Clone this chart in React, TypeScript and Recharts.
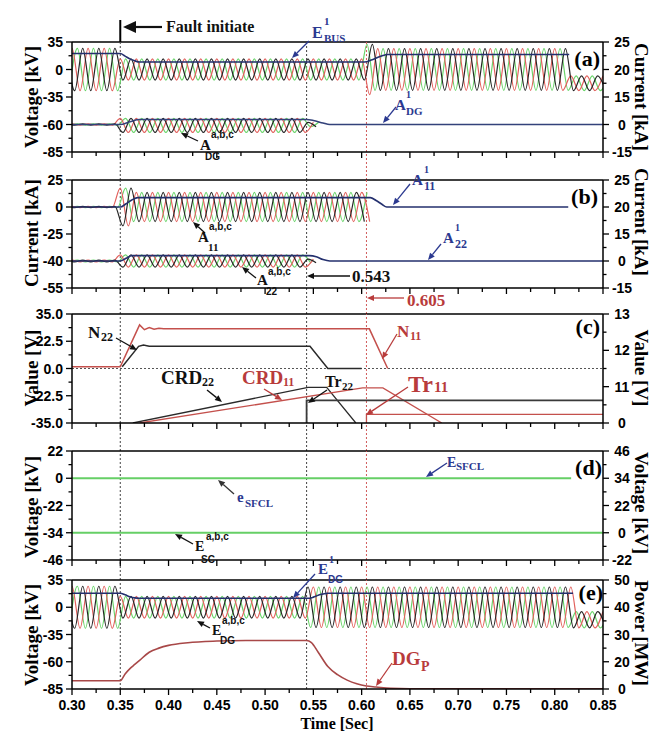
import React from "react";
import { Line, LineChart, ReferenceLine, XAxis, YAxis } from "recharts";

const FREQ = 60; // Hz, three peaks per phase in the 0.30-0.35 s window
const T_MIN = 0.3;
const T_MAX = 0.85;
const SERIF = '"Liberation Serif", "Times New Roman", serif';
const SANS = '"Liberation Sans", Arial, sans-serif';
const NAVY = "#2b3990";
const RED = "#b83b3b";
const INK = "#111";

const xTicks = [
  0.3, 0.325, 0.35, 0.375, 0.4, 0.425, 0.45, 0.475, 0.5, 0.525, 0.55, 0.575,
  0.6, 0.625, 0.65, 0.675, 0.7, 0.725, 0.75, 0.775, 0.8, 0.825, 0.85,
];
const xTickLabels = ["0.30", "0.35", "0.40", "0.45", "0.50", "0.55", "0.60", "0.65", "0.70", "0.75", "0.80", "0.85"];

const eventTimes = [0.35, 0.543, 0.605];
const eventColors = ["#444", "#444", "#d05a5a"];

// phases a, b, c: shift as part of one period
const phaseShift = [1 / 3, 0, 2 / 3];
const phaseColors = ["#6ad46a", "#e2605c", "#262626"];

// axis labels, equally spaced on the original figure
const aLeftTicks = [-85, -60, -35, 0, 35];
const aRightTicks = [-15, 0, 15, 20, 25];
const bLeftTicks = [-55, -40, -25, 0, 25];
const bRightTicks = [-15, 0, 15, 20, 25];
const cLeftTicks = [-35, -22.5, 0, 22.5, 35];
const cRightTicks = [0, 11, 12, 13];
const dLeftTicks = [-46, -34, -22, 0, 22];
const dRightTicks = [-22, 0, 22, 34, 46];
const eLeftTicks = [-85, -60, -35, 0, 35];
const eRightTicks = [0, 20, 30, 40, 50];

// (a) E_BUS a,b,c peak envelope [kV]
const busStart = [0.3, 0.35, 0.605, 0.613, 0.815];
const busEnd = [0.35, 0.605, 0.613, 0.815, 0.85];
const busAmp = [27, 13.5, 32, 26.5, 9.5];
const busMid = [0, 0, 0, 0, -17.5];
// (a) E_BUS^1 [kV]
const busRmsT = [0.3, 0.35, 0.355, 0.36, 0.365, 0.37, 0.603, 0.61, 0.617, 0.622, 0.627, 0.815];
const busRmsV = [20.3, 20.3, 17, 13.5, 11, 9.5, 9.5, 12, 15.5, 17.8, 19, 19];
// (a) A_DG a,b,c [kA]
const dgCurStart = [0.3, 0.35, 0.543];
const dgCurEnd = [0.35, 0.543, 0.556];
const dgCurAmp = [0.4, 3.8, 1.2];
const dgCurMid = [0, -0.5, 0];
// (a) A_DG^1 [kA]
const dgRmsT = [0.3, 0.35, 0.36, 0.37, 0.543, 0.55, 0.56, 0.567, 0.85];
const dgRmsV = [0, 0, 1.5, 2.7, 2.7, 2.2, 0.8, 0, 0];

// (b) A_11 a,b,c [kA]
const a11Start = [0.3, 0.35, 0.362];
const a11End = [0.35, 0.362, 0.611];
const a11Amp = [0.6, 17.5, 13.5];
const a11Mid = [0, 0, 0];
const a11RmsT = [0.3, 0.35, 0.356, 0.362, 0.368, 0.609, 0.615, 0.621, 0.626, 0.814];
const a11RmsV = [0, 0, 3, 6.5, 8.7, 8.7, 6, 2.5, 0, 0];
// (b) A_22 a,b,c [kA]
const a22Start = [0.3, 0.35, 0.543];
const a22End = [0.35, 0.543, 0.553];
const a22Amp = [0.5, 3.4, 1];
const a22Mid = [-40, -40, -40];
const a22RmsT = [0.3, 0.35, 0.356, 0.362, 0.546, 0.553, 0.56, 0.567, 0.85];
const a22RmsV = [-40, -40, -38.5, -37, -37, -37.6, -39.2, -40, -40];

// (c) relay values
const n11T = [0.3, 0.35, 0.37, 0.375, 0.38, 0.385, 0.39, 0.395, 0.608, 0.627];
const n11V = [1.4, 1.4, 30, 27.8, 28.8, 28, 28.5, 28.2, 28.2, 0];
const n22T = [0.352, 0.369, 0.374, 0.38, 0.5465, 0.565, 0.6];
const n22V = [1.4, 18.3, 19.3, 18.3, 18.3, 0, 0];
const crd22T = [0.363, 0.5445, 0.5638, 0.594];
const crd22V = [-35, -15.6, -15.6, -35];
const crd11T = [0.37, 0.601, 0.622, 0.683];
const crd11V = [-35, -16, -16, -35];
const tr22T = [0.543, 0.543, 0.85];
const tr22V = [-35, -24.6, -24.6];
const tr11T = [0.605, 0.605, 0.85];
const tr11V = [-35, -31, -31];

// (d) SFCL voltages [kV]
const sfclT = [0.3, 0.817];
const sfclV = [0, 0];
const escT = [0.3, 0.85];
const escV = [-34, -34];

// (e) E_DG a,b,c [kV]
const edgStart = [0.3, 0.35, 0.543, 0.819];
const edgEnd = [0.35, 0.543, 0.819, 0.85];
const edgAmp = [27, 14, 26, 10.5];
const edgMid = [0, 0, 0, -16];
const edgRmsT = [0.3, 0.35, 0.355, 0.36, 0.365, 0.37, 0.545, 0.55, 0.555, 0.56, 0.565, 0.819];
const edgRmsV = [18, 18, 16, 13.5, 12, 11.5, 11.5, 13, 15.5, 17, 18, 18];
// (e) DG_P [MW]
const dgpT = [0.3, 0.35, 0.355, 0.36, 0.365, 0.37, 0.38, 0.39, 0.4, 0.42, 0.45, 0.48, 0.543, 0.548, 0.555, 0.565, 0.575, 0.585, 0.595, 0.605, 0.615, 0.63, 0.65, 0.85];
const dgpV = [6.1, 6.1, 11, 15, 18, 20.5, 23.5, 25, 26, 27, 27.6, 27.8, 27.8, 27, 23.5, 16.5, 10.5, 6.5, 3.8, 2.2, 1.5, 0.5, 0.2, 0.2];

type Pt = { t: number; v: number };

// position of a value on an axis whose labels are equally spaced
function toPos(v: number, ticks: number[]): number {
  const n = ticks.length - 1;
  let i = 0;
  while (i < n - 1 && v > ticks[i + 1]) i++;
  return i + (v - ticks[i]) / (ticks[i + 1] - ticks[i]);
}

function trace(ts: number[], vs: number[], ticks: number[]): Pt[] {
  return ts.map((t, i) => ({ t, v: toPos(vs[i], ticks) }));
}

// peaks and troughs of one phase, from the envelope segments
function wavePeaks(starts: number[], ends: number[], amps: number[], mids: number[], shift: number, ticks: number[]): Pt[] {
  const half = 1 / (2 * FREQ);
  const first = starts[0] <= T_MIN ? starts[0] - half : starts[0];
  const lastEnd = ends[ends.length - 1];
  const last = lastEnd >= T_MAX ? lastEnd + half : lastEnd;
  const base = T_MIN + shift / FREQ;
  const pts: Pt[] = [];
  for (let k = Math.ceil((first - base) / half); base + k * half <= last; k++) {
    const t = base + k * half;
    let s = 0;
    while (s < starts.length - 1 && t >= starts[s + 1]) s++;
    const sign = ((k % 2) + 2) % 2 === 0 ? 1 : -1;
    pts.push({ t, v: toPos(mids[s] + sign * amps[s], ticks) });
  }
  return pts;
}

function series(key: string, data: Pt[], color: string, width = 1.2, type: "linear" | "monotone" = "monotone") {
  return (
    <Line
      key={key}
      yAxisId="left"
      data={data}
      dataKey="v"
      type={type}
      stroke={color}
      strokeWidth={width}
      dot={false}
      activeDot={false}
      isAnimationActive={false}
    />
  );
}

function threePhase(key: string, starts: number[], ends: number[], amps: number[], mids: number[], ticks: number[]) {
  return phaseShift.map((sh, i) =>
    series(`${key}${i}`, wavePeaks(starts, ends, amps, mids, sh, ticks), phaseColors[i], 1.2),
  );
}

function halfSteps(n: number) {
  const out: number[] = [];
  for (let i = 0; i <= n * 2; i++) out.push(i / 2);
  return out;
}

function yTick(ticks: number[], fixed: number, side: "left" | "right") {
  return (p: any) => {
    const v = p.payload.value;
    const major = Math.abs(v - Math.round(v)) < 1e-6;
    const dir = side === "left" ? -1 : 1;
    return (
      <g>
        <line x1={p.x} x2={p.x + dir * (major ? 6 : 3.5)} y1={p.y} y2={p.y} stroke="#000" strokeWidth={1.3} />
        {major && (
          <text
            x={side === "left" ? p.x - 9 : p.x + 19}
            y={p.y}
            dy={5}
            textAnchor={side === "left" ? "end" : "middle"}
            fontFamily={SANS}
            fontWeight="bold"
            fontSize={14}
            fill="#000"
          >
            {ticks[Math.round(v)].toFixed(fixed)}
          </text>
        )}
      </g>
    );
  };
}

function xTick(showLabels: boolean) {
  return (p: any) => {
    const i = xTicks.findIndex((t) => Math.abs(t - p.payload.value) < 1e-6);
    const major = i % 2 === 0;
    return (
      <g>
        <line x1={p.x} x2={p.x} y1={p.y} y2={p.y + (major ? 6 : 4)} stroke="#000" strokeWidth={1.3} />
        {showLabels && major && (
          <text x={p.x} y={p.y + 21} textAnchor="middle" fontFamily={SANS} fontWeight="bold" fontSize={14} fill="#000">
            {xTickLabels[i / 2]}
          </text>
        )}
      </g>
    );
  };
}

type PanelProps = {
  top: number;
  marginTop: number;
  plotHeight: number;
  axisHeight: number;
  leftTicks: number[];
  rightTicks: number[];
  leftFixed?: number;
  xLabels?: boolean;
  fault?: boolean;
  zeroLine?: number;
  children?: React.ReactNode;
};

function Panel({ top, marginTop, plotHeight, axisHeight, leftTicks, rightTicks, leftFixed = 0, xLabels = false, fault = false, zeroLine, children }: PanelProps) {
  const nL = leftTicks.length - 1;
  const nR = rightTicks.length - 1;
  const extend = xLabels ? 0 : axisHeight / (plotHeight / nL);
  const axisLine = { stroke: "#000", strokeWidth: 1.5 };
  return (
    <div style={{ position: "absolute", left: 0, top }}>
      <LineChart width={651} height={marginTop + plotHeight + axisHeight} margin={{ top: marginTop, right: 0, bottom: 0, left: 0 }}>
        <XAxis
          type="number"
          dataKey="t"
          domain={[T_MIN, T_MAX]}
          allowDataOverflow
          ticks={xTicks}
          interval={0}
          height={axisHeight}
          tickLine={false}
          tickSize={0}
          tickMargin={0}
          tick={xTick(xLabels)}
          axisLine={axisLine}
        />
        <YAxis
          yAxisId="left"
          type="number"
          domain={[0, nL]}
          allowDataOverflow
          ticks={halfSteps(nL)}
          interval={0}
          width={72}
          tickLine={false}
          tickSize={0}
          tickMargin={0}
          tick={yTick(leftTicks, leftFixed, "left")}
          axisLine={axisLine}
        />
        <YAxis
          yAxisId="right"
          orientation="right"
          type="number"
          domain={[0, nR]}
          allowDataOverflow
          ticks={halfSteps(nR)}
          interval={0}
          width={48}
          tickLine={false}
          tickSize={0}
          tickMargin={0}
          tick={yTick(rightTicks, 0, "right")}
          axisLine={axisLine}
        />
        <ReferenceLine yAxisId="left" y={nL} stroke="#000" strokeWidth={1.5} />
        {zeroLine !== undefined && (
          <ReferenceLine yAxisId="left" y={zeroLine} stroke="#555" strokeDasharray="2 2" />
        )}
        {eventTimes.map((t, i) => (
          <ReferenceLine
            key={`ev${i}`}
            yAxisId="left"
            segment={[{ x: t, y: -extend }, { x: t, y: nL }]}
            ifOverflow="visible"
            stroke={eventColors[i]}
            strokeDasharray="2 2"
          />
        ))}
        {fault && (
          <ReferenceLine
            yAxisId="left"
            segment={[{ x: eventTimes[0], y: nL }, { x: eventTimes[0], y: nL + 0.8 }]}
            ifOverflow="visible"
            stroke="#000"
            strokeWidth={2}
          />
        )}
        {children}
      </LineChart>
    </div>
  );
}

type Note = { x: number; y: number; s: string; size: number; color: string; sans?: boolean };
const notes: Note[] = [
  { x: 166, y: 32, s: "Fault initiate", size: 16, color: INK },
  { x: 312, y: 38, s: "E", size: 16, color: NAVY },
  { x: 324, y: 25, s: "1", size: 11, color: NAVY },
  { x: 324, y: 42, s: "BUS", size: 11, color: NAVY },
  { x: 395, y: 110, s: "A", size: 15, color: NAVY },
  { x: 406, y: 98, s: "1", size: 10, color: NAVY },
  { x: 406, y: 115, s: "DG", size: 11, color: NAVY },
  { x: 200, y: 150, s: "A", size: 15, color: INK },
  { x: 211, y: 138, s: "a,b,c", size: 10, color: INK, sans: true },
  { x: 205, y: 160, s: "DG", size: 10, color: INK, sans: true },
  { x: 198, y: 242, s: "A", size: 15, color: INK },
  { x: 209, y: 230, s: "a,b,c", size: 10, color: INK, sans: true },
  { x: 208, y: 251, s: "11", size: 11, color: INK },
  { x: 257, y: 285, s: "A", size: 15, color: INK },
  { x: 268, y: 275, s: "a,b,c", size: 10, color: INK, sans: true },
  { x: 266, y: 295, s: "22", size: 10, color: INK, sans: true },
  { x: 412, y: 185, s: "A", size: 15, color: NAVY },
  { x: 424, y: 173, s: "1", size: 10, color: NAVY },
  { x: 424, y: 190, s: "11", size: 12, color: NAVY },
  { x: 443, y: 243, s: "A", size: 15, color: NAVY },
  { x: 455, y: 231, s: "1", size: 10, color: NAVY },
  { x: 455, y: 248, s: "22", size: 12, color: NAVY },
  { x: 352, y: 282, s: "0.543", size: 17, color: INK },
  { x: 407, y: 306, s: "0.605", size: 17, color: RED },
  { x: 88, y: 338, s: "N", size: 17, color: INK },
  { x: 101, y: 341, s: "22", size: 12, color: INK },
  { x: 397, y: 337, s: "N", size: 17, color: RED },
  { x: 410, y: 340, s: "11", size: 12, color: RED },
  { x: 161, y: 384, s: "CRD", size: 19, color: INK },
  { x: 202, y: 386, s: "22", size: 12, color: INK },
  { x: 242, y: 384, s: "CRD", size: 19, color: RED },
  { x: 283, y: 386, s: "11", size: 12, color: RED },
  { x: 325, y: 387, s: "Tr", size: 16, color: INK },
  { x: 342, y: 390, s: "22", size: 11, color: INK },
  { x: 408, y: 392, s: "Tr", size: 24, color: RED },
  { x: 434, y: 392, s: "11", size: 15, color: RED },
  { x: 237, y: 502, s: "e", size: 15, color: NAVY },
  { x: 245, y: 507, s: "SFCL", size: 11, color: NAVY },
  { x: 447, y: 467, s: "E", size: 14, color: NAVY },
  { x: 456, y: 470, s: "SFCL", size: 11, color: NAVY },
  { x: 195, y: 551, s: "E", size: 14, color: INK },
  { x: 206, y: 540, s: "a,b,c", size: 10, color: INK, sans: true },
  { x: 201, y: 563, s: "SC", size: 10, color: INK, sans: true },
  { x: 318, y: 574, s: "E", size: 15, color: NAVY },
  { x: 329, y: 563, s: "1", size: 10, color: NAVY },
  { x: 328, y: 583, s: "DG", size: 10, color: NAVY, sans: true },
  { x: 212, y: 635, s: "E", size: 14, color: INK },
  { x: 222, y: 624, s: "a,b,c", size: 10, color: INK, sans: true },
  { x: 220, y: 644, s: "DG", size: 10, color: INK, sans: true },
  { x: 392, y: 665, s: "DG", size: 19, color: RED },
  { x: 421, y: 671, s: "P", size: 14, color: RED },
];

type Arrow = { x1: number; y1: number; x2: number; y2: number; color: string; big?: boolean };
const arrows: Arrow[] = [
  { x1: 162, y1: 27, x2: 123, y2: 27, color: INK, big: true },
  { x1: 309, y1: 41, x2: 292, y2: 58, color: NAVY },
  { x1: 396, y1: 107, x2: 383, y2: 123, color: NAVY },
  { x1: 198, y1: 141, x2: 181, y2: 133, color: INK },
  { x1: 205, y1: 233, x2: 193, y2: 222, color: INK },
  { x1: 256, y1: 278, x2: 242, y2: 267, color: INK },
  { x1: 410, y1: 184, x2: 393, y2: 205, color: NAVY },
  { x1: 441, y1: 244, x2: 428, y2: 260, color: NAVY },
  { x1: 350, y1: 276, x2: 307, y2: 276, color: INK },
  { x1: 404, y1: 298, x2: 367, y2: 298, color: RED },
  { x1: 116, y1: 338, x2: 137, y2: 350, color: INK },
  { x1: 397, y1: 334, x2: 382, y2: 359, color: RED },
  { x1: 207, y1: 390, x2: 222, y2: 402, color: INK },
  { x1: 264, y1: 389, x2: 282, y2: 400, color: RED },
  { x1: 327, y1: 390, x2: 308, y2: 403, color: INK },
  { x1: 408, y1: 387, x2: 366, y2: 415, color: RED },
  { x1: 234, y1: 494, x2: 218, y2: 480, color: "#333" },
  { x1: 447, y1: 463, x2: 426, y2: 477, color: NAVY },
  { x1: 193, y1: 544, x2: 175, y2: 534, color: INK },
  { x1: 315, y1: 574, x2: 293, y2: 598, color: NAVY },
  { x1: 210, y1: 628, x2: 197, y2: 621, color: INK },
  { x1: 392, y1: 663, x2: 376, y2: 686, color: RED },
];

const panelTags = [
  { x: 600, y: 66, s: "(a)" },
  { x: 598, y: 204, s: "(b)" },
  { x: 600, y: 334, s: "(c)" },
  { x: 602, y: 475, s: "(d)" },
  { x: 603, y: 600, s: "(e)" },
];

const axisTitles = [
  { x: 31, y: 97, s: "Voltage [kV]", rot: -90 },
  { x: 31, y: 233, s: "Current [kA]", rot: -90 },
  { x: 31, y: 368, s: "Value [V]", rot: -90 },
  { x: 31, y: 507, s: "Voltage [kV]", rot: -90 },
  { x: 31, y: 635, s: "Voltage [kV]", rot: -90 },
  { x: 641, y: 97, s: "Current [kA]", rot: 90 },
  { x: 641, y: 222, s: "Current [kA]", rot: 90 },
  { x: 641, y: 368, s: "Value [V]", rot: 90 },
  { x: 641, y: 503, s: "Voltage [kV]", rot: 90 },
  { x: 641, y: 633, s: "Power [MW]", rot: 90 },
];

function headPoints(a: Arrow, len: number, w: number) {
  const dx = a.x2 - a.x1;
  const dy = a.y2 - a.y1;
  const d = Math.hypot(dx, dy);
  const ux = dx / d;
  const uy = dy / d;
  const bx = a.x2 - ux * len;
  const by = a.y2 - uy * len;
  return { bx, by, pts: `${a.x2},${a.y2} ${bx - uy * w},${by + ux * w} ${bx + uy * w},${by - ux * w}` };
}

function Overlay() {
  return (
    <svg width={651} height={733} style={{ position: "absolute", left: 0, top: 0, pointerEvents: "none" }}>
      {arrows.map((a, i) => {
        const h = headPoints(a, a.big ? 13 : 7, a.big ? 6 : 3);
        return (
          <g key={`ar${i}`}>
            <line x1={a.x1} y1={a.y1} x2={h.bx} y2={h.by} stroke={a.color} strokeWidth={a.big ? 2.2 : 1.3} />
            <polygon points={h.pts} fill={a.color} />
          </g>
        );
      })}
      {notes.map((n, i) => (
        <text
          key={`n${i}`}
          x={n.x}
          y={n.y}
          fontFamily={n.sans ? SANS : SERIF}
          fontWeight="bold"
          fontSize={n.size}
          fill={n.color}
        >
          {n.s}
        </text>
      ))}
      {panelTags.map((p) => (
        <text key={p.s} x={p.x} y={p.y} textAnchor="end" fontFamily={SERIF} fontWeight="bold" fontSize={22} fill="#000">
          {p.s}
        </text>
      ))}
      {axisTitles.map((t, i) => (
        <text
          key={`t${i}`}
          x={t.x}
          y={t.y}
          transform={`rotate(${t.rot} ${t.x} ${t.y})`}
          textAnchor="middle"
          dominantBaseline="central"
          fontFamily={SERIF}
          fontWeight="bold"
          fontSize={19}
          fill="#000"
        >
          {t.s}
        </text>
      ))}
      <text x={337} y={729} textAnchor="middle" fontFamily={SERIF} fontWeight="bold" fontSize={16} fill="#000">
        Time [Sec]
      </text>
    </svg>
  );
}

export default function App() {
  return (
    <div style={{ position: "absolute", left: 0, top: 0, width: 651, height: 733, background: "#fff", overflow: "hidden" }}>
      <Panel top={0} marginTop={42} plotHeight={110} axisHeight={28} leftTicks={aLeftTicks} rightTicks={aRightTicks} fault>
        {threePhase("bus", busStart, busEnd, busAmp, busMid, aLeftTicks)}
        {threePhase("adg", dgCurStart, dgCurEnd, dgCurAmp, dgCurMid, aRightTicks)}
        {series("busRms", trace(busRmsT, busRmsV, aLeftTicks), "#24306e", 1.6)}
        {series("dgRms", trace(dgRmsT, dgRmsV, aRightTicks), "#33427a", 1.6)}
      </Panel>
      <Panel top={166} marginTop={14} plotHeight={108} axisHeight={26} leftTicks={bLeftTicks} rightTicks={bRightTicks}>
        {threePhase("a11", a11Start, a11End, a11Amp, a11Mid, bLeftTicks)}
        {threePhase("a22", a22Start, a22End, a22Amp, a22Mid, bLeftTicks)}
        {series("a11Rms", trace(a11RmsT, a11RmsV, bLeftTicks), "#24306e", 1.6)}
        {series("a22Rms", trace(a22RmsT, a22RmsV, bLeftTicks), "#24306e", 1.6)}
      </Panel>
      <Panel top={300} marginTop={14} plotHeight={109} axisHeight={28} leftTicks={cLeftTicks} rightTicks={cRightTicks} leftFixed={1} zeroLine={2}>
        {series("crd22", trace(crd22T, crd22V, cLeftTicks), "#2a2a2a", 1.3, "linear")}
        {series("crd11", trace(crd11T, crd11V, cLeftTicks), "#c4504c", 1.3, "linear")}
        {series("tr22", trace(tr22T, tr22V, cLeftTicks), "#3a3a3a", 1.8, "linear")}
        {series("tr11", trace(tr11T, tr11V, cLeftTicks), "#c4504c", 1.3, "linear")}
        {series("n22", trace(n22T, n22V, cLeftTicks), "#2a2a2a", 1.5, "linear")}
        {series("n11", trace(n11T, n11V, cLeftTicks), "#c4504c", 1.5, "linear")}
      </Panel>
      <Panel top={437} marginTop={14} plotHeight={109} axisHeight={20} leftTicks={dLeftTicks} rightTicks={dRightTicks}>
        {series("sfcl", trace(sfclT, sfclV, dLeftTicks), "#66cf66", 2.2, "linear")}
        {series("esc", trace(escT, escV, dLeftTicks), "#66cf66", 2.2, "linear")}
      </Panel>
      <Panel top={566} marginTop={14} plotHeight={109} axisHeight={44} leftTicks={eLeftTicks} rightTicks={eRightTicks} xLabels>
        {threePhase("edg", edgStart, edgEnd, edgAmp, edgMid, eLeftTicks)}
        {series("edgRms", trace(edgRmsT, edgRmsV, eLeftTicks), "#24306e", 1.6)}
        {series("dgp", trace(dgpT, dgpV, eRightTicks), "#a84848", 1.6)}
      </Panel>
      <Overlay />
    </div>
  );
}
